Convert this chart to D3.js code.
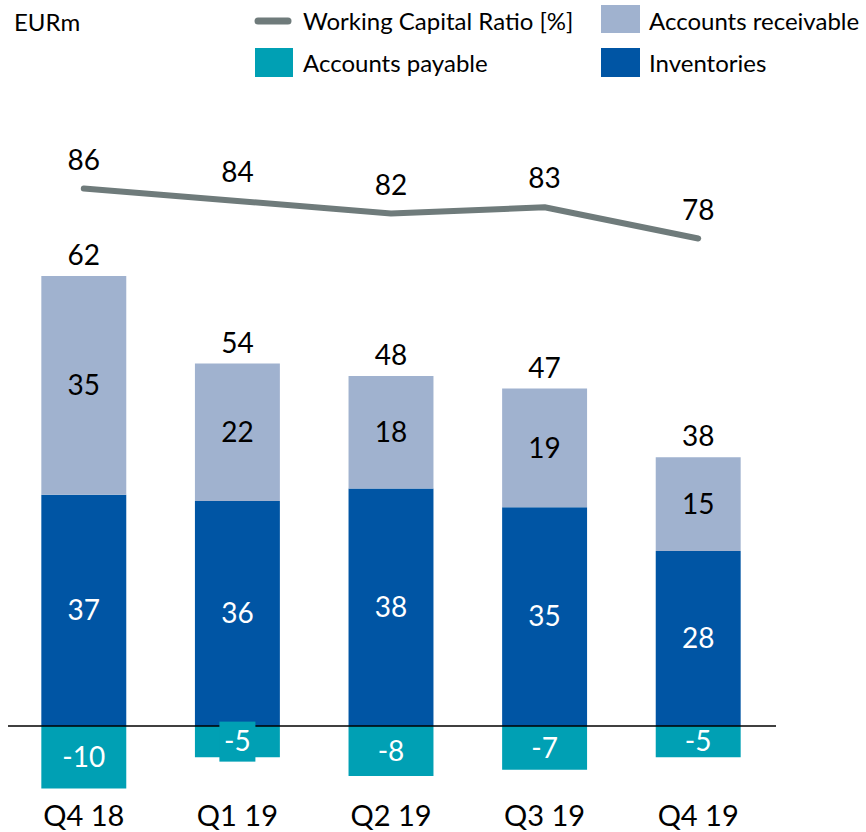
<!DOCTYPE html>
<html><head><meta charset="utf-8">
<script src="https://cdn.jsdelivr.net/npm/d3@7"></script>
<style>body{margin:0;background:#fff}svg{display:block}text{font-family:Lato,"Open Sans",sans-serif}</style>
</head><body>
<svg id="c" width="866" height="832"></svg>
<script>
const categories = ["Q4 18","Q1 19","Q2 19","Q3 19","Q4 19"];
const inventories = [37,36,38,35,28];
const receivables = [35,22,18,19,15];
const payables = [-10,-5,-8,-7,-5];
const totals = [62,54,48,47,38];
const wcRatio = [86,84,82,83,78];
const colors = {inv:"#0055a4", rec:"#a0b2cf", pay:"#00a0b4", line:"#6f7b7b"};

const svg = d3.select("#c");
const x = d3.scaleBand().domain(categories).range([7,775]).paddingInner(0.447).paddingOuter(0.2235);
const y = d3.scaleLinear().domain([-16,100]).range([826,101]);
const bw = x.bandwidth();

// bars
const g = svg.append("g");
categories.forEach((c,i)=>{
  const x0 = x(c);
  g.append("rect").attr("x",x0).attr("width",bw).attr("y",y(0)).attr("height",y(payables[i])-y(0)).attr("fill",colors.pay);
  g.append("rect").attr("x",x0).attr("width",bw).attr("y",y(inventories[i])).attr("height",y(0)-y(inventories[i])).attr("fill",colors.inv);
  g.append("rect").attr("x",x0).attr("width",bw).attr("y",y(inventories[i]+receivables[i])).attr("height",y(inventories[i])-y(inventories[i]+receivables[i])).attr("fill",colors.rec);
});

// zero axis line
svg.append("line").attr("x1",8).attr("x2",776).attr("y1",y(0)).attr("y2",y(0)).attr("stroke","#000").attr("stroke-width",1.5);

// category axis
const xAxis = svg.append("g").attr("transform",`translate(0,${y(0)})`).call(d3.axisBottom(x).tickSize(0).tickPadding(0));
xAxis.select(".domain").remove();
xAxis.selectAll("text").attr("y",100).attr("dy",0).attr("font-size",29).attr("fill","#000").attr("font-family","Lato");

// segment labels
const fs = 28;
categories.forEach((c,i)=>{
  const cx = x(c)+bw/2;
  const inv = inventories[i], rec = receivables[i], pay = payables[i];
  const py = (y(0)+y(pay))/2;
  if (i===1){
    svg.append("rect").attr("x",cx-18).attr("y",py-20).attr("width",36).attr("height",40).attr("fill",colors.pay);
  }
  svg.append("text").attr("x",cx).attr("y",py).attr("dy","0.35em").attr("text-anchor","middle").attr("font-size",fs).attr("fill","#fff").text(pay);
  svg.append("text").attr("x",cx).attr("y",(y(0)+y(inv))/2).attr("dy","0.35em").attr("text-anchor","middle").attr("font-size",fs).attr("fill","#fff").text(inv);
  svg.append("text").attr("x",cx).attr("y",(y(inv)+y(inv+rec))/2).attr("dy","0.35em").attr("text-anchor","middle").attr("font-size",fs).attr("fill","#000").text(rec);
  svg.append("text").attr("x",cx).attr("y",y(inv+rec)-11).attr("text-anchor","middle").attr("font-size",fs).attr("fill","#000").text(totals[i]);
});

// line
const line = d3.line().x((d,i)=>x(categories[i])+bw/2).y(d=>y(d));
svg.append("path").datum(wcRatio).attr("d",line).attr("fill","none").attr("stroke",colors.line).attr("stroke-width",6).attr("stroke-linecap","round").attr("stroke-linejoin","round");
wcRatio.forEach((v,i)=>{
  svg.append("text").attr("x",x(categories[i])+bw/2).attr("y",y(v)-19).attr("text-anchor","middle").attr("font-size",fs).attr("fill","#000").text(v);
});

// legend
const lfs = 24;
svg.append("text").attr("x",14).attr("y",31).attr("font-size",lfs).attr("fill","#000").text("EURm");
svg.append("line").attr("x1",258).attr("x2",288).attr("y1",21).attr("y2",21).attr("stroke",colors.line).attr("stroke-width",7).attr("stroke-linecap","round");
svg.append("text").attr("x",303).attr("y",30).attr("font-size",lfs).attr("fill","#000").text("Working Capital Ratio [%]");
svg.append("rect").attr("x",601).attr("y",5).attr("width",39).attr("height",28).attr("fill",colors.rec);
svg.append("text").attr("x",649).attr("y",30).attr("font-size",lfs).attr("fill","#000").text("Accounts receivable");
svg.append("rect").attr("x",255).attr("y",48).attr("width",38).attr("height",29).attr("fill",colors.pay);
svg.append("text").attr("x",303).attr("y",72).attr("font-size",lfs).attr("fill","#000").text("Accounts payable");
svg.append("rect").attr("x",601).attr("y",48).attr("width",39).attr("height",29).attr("fill",colors.inv);
svg.append("text").attr("x",649).attr("y",72).attr("font-size",lfs).attr("fill","#000").text("Inventories");
</script>
</body></html>
